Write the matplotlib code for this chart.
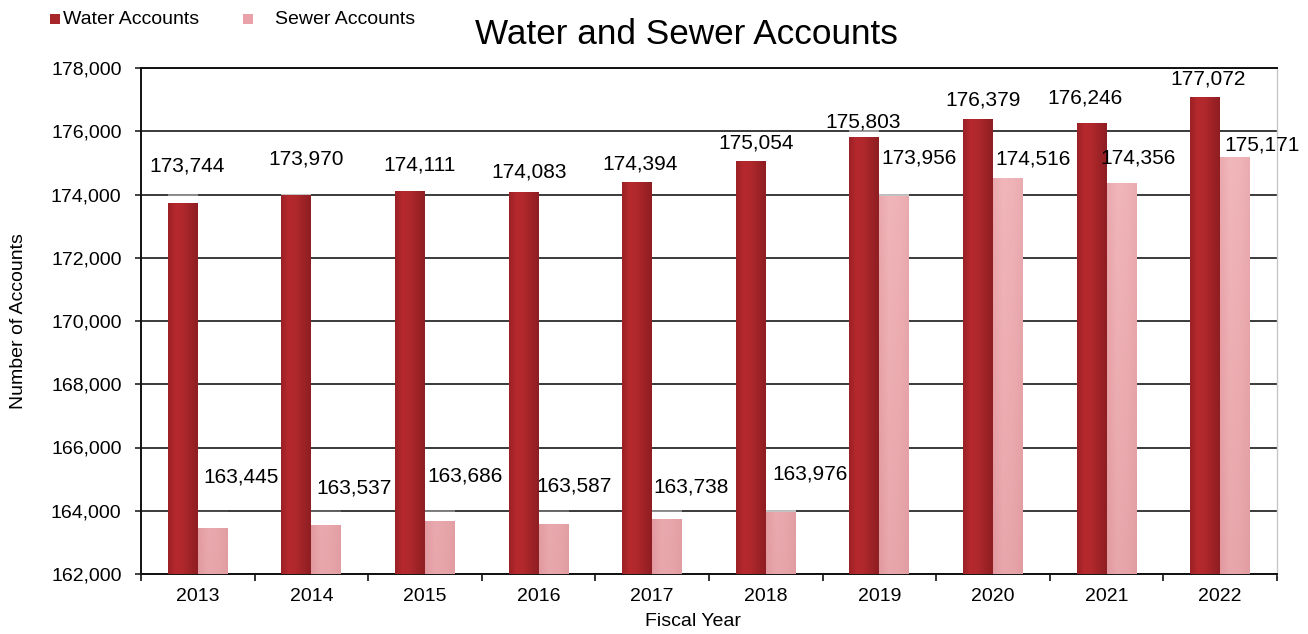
import numpy as np
import matplotlib
matplotlib.use("Agg")
import matplotlib.pyplot as plt
from matplotlib.colors import LinearSegmentedColormap
from matplotlib.patches import Rectangle
from matplotlib.ticker import FuncFormatter, MultipleLocator

plt.rcParams['font.family'] = ['Liberation Sans', 'DejaVu Sans']

# Data
years = ["2013", "2014", "2015", "2016", "2017", "2018", "2019", "2020", "2021", "2022"]
water_accounts = [173744, 173970, 174111, 174083, 174394, 175054, 175803, 176379, 176246, 177072]
sewer_accounts = [163445, 163537, 163686, 163587, 163738, 163976, 173956, 174516, 174356, 175171]

# Label placement offsets (points) relative to the top centre of each bar
water_label_offsets = [(3, 26), (7, 26), (7, 19), (4, 14), (2, 13), (4, 13), (-1, 11), (4, 14), (-5, 18), (2, 13)]
sewer_label_offsets = [(20, 37), (20, 27), (18, 32), (15, 27), (17, 23), (21, 27), (18, 27), (18, 14), (12, 18), (19, 9)]

YMIN, YMAX = 162000, 178000

fig = plt.figure(figsize=(13.08, 6.34), dpi=100)
ax = fig.add_axes([141 / 1308, 1 - 574 / 634, (1277 - 141) / 1308, (574 - 68) / 634])

x = np.arange(len(years))
w = 0.264

water_bars = ax.bar(x - w / 2, water_accounts, width=w, color="#A6262A", zorder=3)
sewer_bars = ax.bar(x + w / 2, sewer_accounts, width=w, color="#EAA6AB", zorder=3)

ax.set_xlim(-0.5, len(years) - 0.5)
ax.set_ylim(YMIN, YMAX)


def shade_bar(bar, cmap, vertical_cmap=None):
    """Paint a horizontal colour gradient inside a bar, optionally blended with a vertical one."""
    x0, y0 = bar.get_x(), YMIN
    x1, y1 = x0 + bar.get_width(), bar.get_height()
    n = 64
    horiz = cmap(np.linspace(0, 1, n))[:, :3]
    img = np.tile(horiz[None, :, :], (n, 1, 1))
    if vertical_cmap is not None:
        # vertical tint depends on absolute height in the axes
        fr_top = (y1 - YMIN) / (YMAX - YMIN)
        ys = np.linspace(fr_top, 0, n)
        vert = vertical_cmap(ys)[:, :3]
        img = img * 0.55 + vert[:, None, :] * 0.45
    im = ax.imshow(img, extent=(x0, x1, y0, y1), aspect="auto", zorder=3.5,
                   interpolation="bilinear")
    im.set_clip_path(bar)


water_cmap = LinearSegmentedColormap.from_list(
    "water", ["#9A2125", "#B6292D", "#B0282C", "#9E2327", "#8F1E22"])
sewer_cmap = LinearSegmentedColormap.from_list(
    "sewer", ["#E49BA1", "#F0B5B9", "#EDB0B4", "#E4A1A6"])
sewer_vert = LinearSegmentedColormap.from_list(
    "sewer_v", ["#DE969C", "#EBAAAF", "#F4C3C6"])

for b in water_bars:
    shade_bar(b, water_cmap)
for b in sewer_bars:
    shade_bar(b, sewer_cmap, sewer_vert)

# Soft white glow just above the bars
for bars in (water_bars, sewer_bars):
    for b in bars:
        top = b.get_height()
        rgba = np.ones((32, 1, 4))
        rgba[:, 0, 3] = np.linspace(0, 0.7, 32)
        ax.imshow(rgba, extent=(b.get_x(), b.get_x() + b.get_width(), top, top + 600),
                  aspect="auto", zorder=2.5, interpolation="bilinear")
ax.set_xlim(-0.5, len(years) - 0.5)
ax.set_ylim(YMIN, YMAX)

# Grid and axes styling
ax.yaxis.set_major_locator(MultipleLocator(2000))
ax.yaxis.set_major_formatter(FuncFormatter(lambda v, p: f"{int(v):,}"))
ax.grid(axis="y", color="#2b2b2b", linewidth=1.3, zorder=1)
ax.set_axisbelow(True)

ax.set_xticks(x)
ax.set_xticklabels(years)
ax.set_xticks(np.arange(-0.5, len(years)), minor=True)
ax.tick_params(axis="x", which="major", length=0, pad=10, labelsize=14, labelcolor="#000000")
ax.tick_params(axis="x", which="minor", length=5, width=1.3, direction="out", color="#222222")
ax.tick_params(axis="y", which="major", length=4, width=1.2, direction="out", pad=10,
               labelsize=14, color="#222222", labelcolor="#000000")

for side in ("left", "bottom", "top"):
    ax.spines[side].set_color("#111111")
    ax.spines[side].set_linewidth(1.4)
ax.spines["right"].set_color("#C8C8C8")
ax.spines["right"].set_linewidth(1.0)

# Value labels
for b, v, (dx, dy) in zip(water_bars, water_accounts, water_label_offsets):
    ax.annotate(f"{v:,}", xy=(b.get_x() + b.get_width() / 2, v), xytext=(dx, dy),
                textcoords="offset points", ha="center", va="center", fontsize=15,
                color="#000000", zorder=6, annotation_clip=False)
for b, v, (dx, dy) in zip(sewer_bars, sewer_accounts, sewer_label_offsets):
    ax.annotate(f"{v:,}", xy=(b.get_x() + b.get_width() / 2, v), xytext=(dx, dy),
                textcoords="offset points", ha="center", va="center", fontsize=15,
                color="#000000", zorder=6, annotation_clip=False)

# Titles
fig.text(686 / 1308, 1 - 35 / 634, "Water and Sewer Accounts", ha="center", va="center",
         fontsize=25.3, color="#000000")
fig.text(693 / 1308, 1 - 621 / 634, "Fiscal Year", ha="center", va="center",
         fontsize=14, color="#000000")
fig.text(19 / 1308, 1 - 321 / 634, "Number of Accounts", ha="center", va="center",
         rotation=90, fontsize=14, color="#000000")

# Legend
fig.patches.append(Rectangle((50 / 1308, 1 - 24 / 634), 10 / 1308, 10 / 634,
                             transform=fig.transFigure, facecolor="#A6262A", edgecolor="none"))
fig.text(63 / 1308, 1 - 19 / 634, "Water Accounts", ha="left", va="center", fontsize=14,
         color="#000000")
fig.patches.append(Rectangle((243 / 1308, 1 - 24 / 634), 10 / 1308, 10 / 634,
                             transform=fig.transFigure, facecolor="#E8A2A8", edgecolor="none"))
fig.text(275 / 1308, 1 - 19 / 634, "Sewer Accounts", ha="left", va="center", fontsize=14,
         color="#000000")

fig.savefig("out.png", dpi=100)
